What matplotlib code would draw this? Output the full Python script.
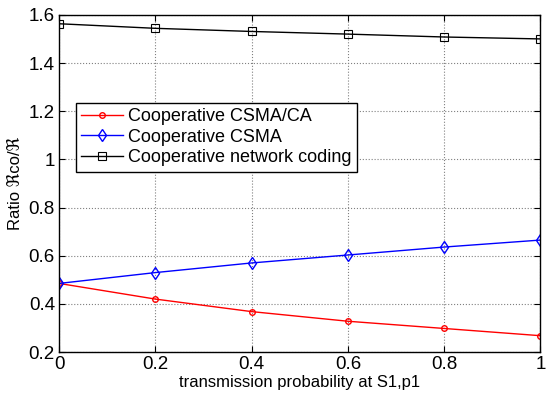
import numpy as np
import matplotlib
matplotlib.use('Agg')
import matplotlib.pyplot as plt

plt.rcParams['font.family'] = ['Liberation Sans', 'DejaVu Sans']

p = [0, 0.2, 0.4, 0.6, 0.8, 1.0]
csma_ca = [0.485, 0.420, 0.368, 0.328, 0.298, 0.268]
csma = [0.485, 0.530, 0.570, 0.603, 0.636, 0.665]
netcod = [1.563, 1.544, 1.531, 1.520, 1.508, 1.500]
labels = ['Cooperative CSMA/CA', 'Cooperative CSMA', 'Cooperative network coding']

fig = plt.figure(figsize=(5.47, 4.01), dpi=100)
ax = fig.add_axes([0.108, 0.122, 0.880, 0.841])

ax.plot(p, csma_ca, color='red', lw=1, marker='o', ms=4, mfc='none', mew=1, label=labels[0])
ax.plot(p, csma, color='blue', lw=1, marker='d', ms=6, mfc='none', mew=1, label=labels[1])
ax.plot(p, netcod, color='black', lw=1, marker='s', ms=6, mfc='none', mew=0.8, label=labels[2])

ax.set_xlim(0, 1)
ax.set_ylim(0.2, 1.6)
ax.set_xticks(p)
ax.set_xticklabels(['0', '0.2', '0.4', '0.6', '0.8', '1'])
ax.set_yticks([0.2, 0.4, 0.6, 0.8, 1.0, 1.2, 1.4, 1.6])
ax.set_yticklabels(['0.2', '0.4', '0.6', '0.8', '1', '1.2', '1.4', '1.6'])
ax.tick_params(labelsize=13.5, direction='in', top=True, right=True, length=4, pad=3)
ax.grid(True, color='gray', ls=':', lw=0.8)
for s in ax.spines.values():
    s.set_linewidth(1)

ax.set_xlabel('transmission probability at S1,p1', fontsize=12, labelpad=1)
ax.set_ylabel('Ratio ℜco/ℜ', fontsize=12, labelpad=4)

leg = ax.legend(loc='upper left', bbox_to_anchor=(0.035, 0.74), fontsize=13,
                fancybox=False, edgecolor='black', framealpha=1,
                borderpad=0.3, labelspacing=0.2, handlelength=2.3, handletextpad=0.3,
                borderaxespad=0)
leg.get_frame().set_linewidth(1)

fig.savefig('out.png', dpi=100)
